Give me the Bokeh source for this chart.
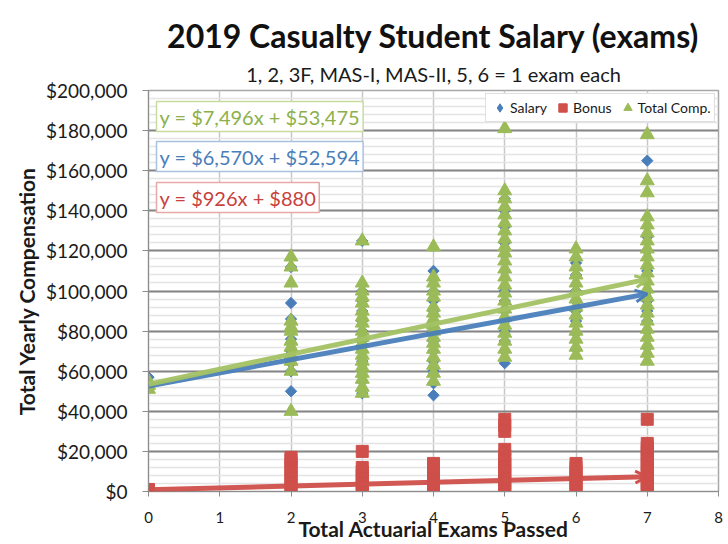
import numpy as np
from bokeh.plotting import figure
from bokeh.models import (Range1d, SingleIntervalTicker, FixedTicker, NumeralTickFormatter,
                          Label, Legend, LegendItem, Arrow, OpenHead, Title)
from bokeh.embed import file_html
from bokeh.resources import INLINE

# ---------------- data ----------------
exams = [0, 2, 3, 4, 5, 6, 7]

salary = [
    [57000, 53000],
    [112000, 94000, 86000, 84000, 76000, 74000, 70000, 67000, 64000, 60000, 50000],
    [125000, 100000, 95000, 90000, 85000, 80000, 75000, 70000, 65000, 60000, 55000, 49000],
    [110000, 100000, 95000, 90000, 85000, 80000, 75000, 70000, 65000, 60000, 54000, 48000],
    [146000, 140000, 132000, 124000, 118000, 110000, 100000, 95000, 90000, 85000, 80000, 75000, 70000, 64000],
    [114000, 108000, 100000, 95000, 90000, 85000, 79000, 71000],
    [165000, 127000, 120000, 110000, 100000, 95000, 90000, 85000, 80000, 72000],
]

bonus = [
    [0, 1000],
    [0, 2000, 4000, 6000, 8000, 10000, 12000, 14000, 16000, 17000],
    [0, 2000, 4000, 6000, 8000, 10000, 12000, 20000],
    [0, 2000, 4000, 6000, 8000, 10000, 12000, 14000],
    [0, 2000, 4000, 6000, 8000, 10000, 12000, 14000, 16000, 18000, 21000, 30000, 33000, 36000],
    [0, 2000, 4000, 6000, 8000, 10000, 12000, 14000],
    [0, 2000, 4000, 6000, 8000, 10000, 12000, 14000, 16000, 18000, 20000, 22000, 24000, 36000],
]

total_comp = [
    [55000, 53000, 51000],
    [117000, 112000, 104000, 85000, 82000, 80000, 75000, 72000, 68000, 65000, 60000, 40000],
    [125000, 104000, 100000, 97000, 94000, 90000, 87000, 84000, 80000, 77000, 74000, 71000,
     68000, 65000, 62000, 59000, 56000, 52000, 49000],
    [122000, 107000, 104000, 100000, 97000, 92000, 89000, 86000, 83000, 80000, 77000, 74000,
     71000, 67000, 63000, 59000, 55000],
    [181000, 150000, 146000, 142000, 138000, 134000, 130000, 126000, 122000, 119000, 115000,
     111000, 107000, 103000, 99000, 95000, 91000, 87000, 83000, 79000, 75000, 71000, 67000],
    [121000, 117000, 112000, 108000, 104000, 100000, 96000, 92000, 88000, 84000, 80000, 76000, 72000, 68000],
    [178000, 155000, 149000, 137000, 133000, 129000, 125000, 121000, 117000, 113000, 109000,
     105000, 101000, 97000, 93000, 89000, 85000, 81000, 77000, 73000, 69000, 65000],
]

series_names = ["Salary", "Bonus", "Total Comp."]
trend_slope = [6570, 926, 7496]
trend_intercept = [52594, 880, 53475]
trend_labels = ["y = $6,570x + $52,594", "y = $926x + $880", "y = $7,496x + $53,475"]

x_ticks = [0, 1, 2, 3, 4, 5, 6, 7, 8]

title_text = "2019 Casualty Student Salary (exams)"
subtitle_text = "1, 2, 3F, MAS-I, MAS-II, 5, 6 = 1 exam each"

# ---------------- styling ----------------
BLUE = "#4A7EBB"
RED = "#CF4F4A"
GREEN = "#9BBB59"
FONT = "Lato"
TXT = "#1a1a1a"


def flat(groups):
    xs, ys = [], []
    for e, vals in zip(exams, groups):
        for v in vals:
            xs.append(e)
            ys.append(v)
    return xs, ys


p = figure(width=728, height=544, output_backend="svg", toolbar_location=None,
           x_range=Range1d(0, 8), y_range=Range1d(0, 200000),
           min_border_left=148, min_border_right=10, min_border_top=90, min_border_bottom=53)
p.background_fill_color = "white"
p.outline_line_color = "#a6a6a6"
p.outline_line_width = 1.5

# titles (subtitle first -> closest to the frame)
p.add_layout(Title(text=subtitle_text, align="center", text_font=FONT,
                   text_font_size="20px", text_font_style="normal", text_color=TXT,
                   standoff=10), "above")
p.add_layout(Title(text=title_text, align="center", text_font=FONT,
                   text_font_size="32px", text_font_style="bold", text_color="#111111",
                   standoff=0), "above")

# axes
p.yaxis.ticker = SingleIntervalTicker(interval=20000, num_minor_ticks=5)
p.yaxis.formatter = NumeralTickFormatter(format="$0,0")
p.yaxis.major_label_text_font = FONT
p.yaxis.major_label_text_font_size = "19px"
p.yaxis.major_label_text_color = TXT
p.yaxis.major_label_standoff = 15
p.yaxis.minor_tick_line_color = None
p.yaxis.major_tick_out = 6
p.yaxis.major_tick_in = 0
p.yaxis.axis_line_color = "#8c8c8c"
p.yaxis.major_tick_line_color = "#8c8c8c"
p.yaxis.axis_label = "Total Yearly Compensation"
p.yaxis.axis_label_text_font = FONT
p.yaxis.axis_label_text_font_style = "bold"
p.yaxis.axis_label_text_font_size = "21px"
p.yaxis.axis_label_text_color = TXT
p.yaxis.axis_label_standoff = 4

p.xaxis.ticker = FixedTicker(ticks=x_ticks)
p.xaxis.major_label_text_font = FONT
p.xaxis.major_label_text_font_size = "15px"
p.xaxis.major_label_text_color = TXT
p.xaxis.major_label_standoff = 15
p.xaxis.major_tick_out = 5
p.xaxis.major_tick_in = 0
p.xaxis.axis_line_color = "#8c8c8c"
p.xaxis.major_tick_line_color = "#8c8c8c"
p.xaxis.axis_label = "Total Actuarial Exams Passed"
p.xaxis.axis_label_text_font = FONT
p.xaxis.axis_label_text_font_style = "bold"
p.xaxis.axis_label_text_font_size = "21px"
p.xaxis.axis_label_text_color = TXT
p.xaxis.axis_label_standoff = -10

# grids
p.ygrid.grid_line_color = "#858585"
p.ygrid.grid_line_width = 2
p.ygrid.minor_grid_line_color = "#e4e4e4"
p.ygrid.minor_grid_line_width = 1.5
p.xgrid.grid_line_color = "#c8c8c8"
p.xgrid.grid_line_width = 1.5

# scatter points
sx, sy = flat(salary)
bx, by = flat(bonus)
tx, ty = flat(total_comp)
r_sal = p.scatter(sx, sy, marker="square", angle=np.pi / 4, size=8,
                  fill_color=BLUE, line_color=BLUE)
r_bon = p.scatter(bx, by, marker="square", size=12, fill_color=RED, line_color=RED)
r_tot = p.scatter(tx, ty, marker="triangle", size=14, fill_color=GREEN, line_color=GREEN)

# legend-only glyphs (not drawn in the plot area)
l_sal = p.scatter([np.nan], [np.nan], marker="diamond", size=12, fill_color=BLUE, line_color=BLUE)
l_bon = p.scatter([np.nan], [np.nan], marker="square", size=12, fill_color=RED, line_color=RED)
l_tot = p.scatter([np.nan], [np.nan], marker="triangle", size=12, fill_color=GREEN, line_color=GREEN)

# trend lines with arrows
trend_colors = [BLUE, RED, "#A3C264"]
x_end = max(exams)
for m, b, c in zip(trend_slope, trend_intercept, trend_colors):
    p.add_layout(Arrow(x_start=0, y_start=b, x_end=x_end, y_end=b + m * x_end,
                       line_color=c, line_width=5, line_alpha=0.95,
                       end=OpenHead(size=12, line_color=c, line_width=3)))

# equation boxes (green, blue, red top to bottom)
eq_order = [2, 0, 1]
eq_y = [375, 335, 294]
eq_border = ["#c9dca0", "#a9c1e0", "#e6a9a6"]
eq_text_col = ["#8DB04A", "#4A7EBB", "#C9413C"]
for i, (k, yy) in enumerate(zip(eq_order, eq_y)):
    p.add_layout(Label(x=8, y=yy, x_units="screen", y_units="screen",
                       text=trend_labels[k], text_font=FONT, text_font_size="20px",
                       text_color=eq_text_col[i], text_baseline="middle",
                       background_fill_color="white",
                       border_line_color=eq_border[i], border_line_width=1.5,
                       padding=3))

# legend
legend = Legend(items=[LegendItem(label=series_names[0], renderers=[l_sal]),
                       LegendItem(label=series_names[1], renderers=[l_bon]),
                       LegendItem(label=series_names[2], renderers=[l_tot])],
                orientation="horizontal", location=(337, 369))
legend.label_text_font = FONT
legend.label_text_font_size = "14px"
legend.label_text_color = TXT
legend.glyph_width = 21
legend.glyph_height = 21
legend.label_standoff = 0
legend.spacing = 5
legend.padding = 3
legend.margin = 0
legend.border_line_color = "#c0c0c0"
legend.background_fill_color = "white"
legend.background_fill_alpha = 1
p.add_layout(legend)

open("out.html", "w").write(file_html(p, INLINE))
